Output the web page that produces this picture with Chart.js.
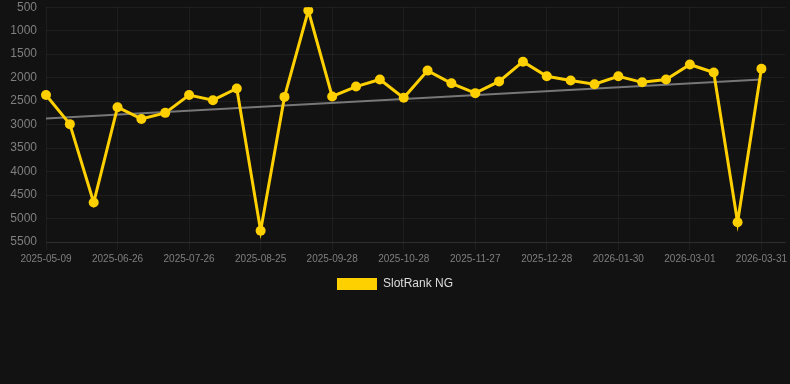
<!DOCTYPE html>
<html>
<head>
<meta charset="utf-8">
<script src="https://cdn.jsdelivr.net/npm/chart.js@4/dist/chart.umd.min.js"></script>
<style>
  html, body { margin: 0; padding: 0; background: #121212; }
  #wrap { width: 790px; height: 300px; position: relative; }
</style>
</head>
<body>
<div id="wrap"><canvas id="rank"></canvas></div>
<script>
const dates = [
  "2025-05-09", "2025-05-25", "2025-06-10", "2025-06-26", "2025-07-06", "2025-07-16",
  "2025-07-26", "2025-08-05", "2025-08-15", "2025-08-25", "2025-09-06", "2025-09-17",
  "2025-09-28", "2025-10-08", "2025-10-18", "2025-10-28", "2025-11-07", "2025-11-17",
  "2025-11-27", "2025-12-07", "2025-12-18", "2025-12-28", "2026-01-08", "2026-01-19",
  "2026-01-30", "2026-02-09", "2026-02-19", "2026-03-01", "2026-03-11", "2026-03-21",
  "2026-03-31", "2026-04-10"
];

// rank per date (lower is better), last label has no value yet
const rank = [
  2370, 2990, 4660, 2630, 2880, 2750, 2370, 2480, 2230, 5260, 2410, 570,
  2400, 2190, 2040, 2430, 1850, 2120, 2330, 2080, 1660, 1970, 2060, 2140,
  1970, 2100, 2040, 1720, 1890, 5080, 1810, null
];

// trend line: only the two ends, gap spanned
const trend = [2870];
for (let i = 1; i < 30; i++) trend.push(null);
trend.push(2040, null);

const yTicks = { min: 500, max: 5500, step: 500 };

const ctx = document.getElementById('rank');

new Chart(ctx, {
  type: 'line',
  data: {
    labels: dates,
    datasets: [
      {
        label: 'SlotRank NG',
        data: rank,
        borderColor: '#ffd000',
        backgroundColor: '#ffd000',
        borderWidth: 3,
        pointRadius: 5,
        pointBorderWidth: 0,
        pointBackgroundColor: '#ffd000',
        tension: 0,
        order: 1
      },
      {
        label: 'trend',
        data: trend,
        borderColor: '#777777',
        borderWidth: 2,
        pointRadius: 0,
        spanGaps: true,
        order: 2
      }
    ]
  },
  options: {
    responsive: true,
    maintainAspectRatio: false,
    animation: false,
    layout: { autoPadding: false, padding: 0 },
    plugins: {
      tooltip: { enabled: false },
      legend: {
        position: 'bottom',
        labels: {
          color: '#dddddd',
          font: { size: 12 },
          boxWidth: 40,
          generateLabels: (chart) =>
            Chart.defaults.plugins.legend.labels.generateLabels(chart)
              .filter(item => item.text !== 'trend')
              .map(item => ({ ...item, lineWidth: 0 }))
        }
      }
    },
    scales: {
      x: {
        offset: false,
        grid: { color: 'rgba(255,255,255,0.05)' },
        border: { color: 'rgba(255,255,255,0.08)' },
        ticks: {
          color: '#7f7f7f',
          font: { size: 10 },
          autoSkip: false,
          maxRotation: 0,
          callback: function (value, index) {
            return index % 3 === 0 ? this.getLabelForValue(value) : null;
          }
        }
      },
      y: {
        reverse: true,
        min: yTicks.min,
        max: yTicks.max,
        afterFit: (scale) => { scale.width = 46; },
        grid: {
          color: 'rgba(255,255,255,0.05)',
          drawTicks: true,
          tickLength: 9,
          tickColor: 'rgba(0,0,0,0)'
        },
        border: { display: false },
        ticks: {
          stepSize: yTicks.step,
          color: '#7f7f7f',
          font: { size: 12 },
          padding: 0,
          callback: (v) => String(v)
        }
      }
    }
  }
});
</script>
</body>
</html>
